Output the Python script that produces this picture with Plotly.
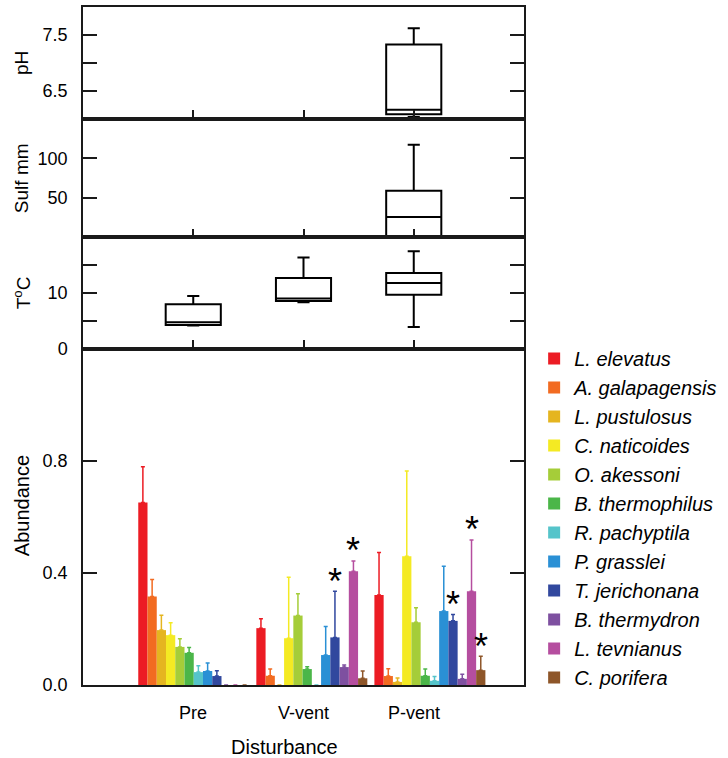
import plotly.graph_objects as go

FONT = "Liberation Sans, Arial, sans-serif"

groups = ["Pre", "V-vent", "P-vent"]

# ---- environmental box summaries ----
ph_groups = ["P-vent"]
ph_lower = [6.03]
ph_q1 = [6.08]
ph_median = [6.16]
ph_q3 = [7.33]
ph_upper = [7.62]

sulf_groups = ["P-vent"]
sulf_lower = [0.0]
sulf_q1 = [0.5]
sulf_median = [25.6]
sulf_q3 = [59.0]
sulf_upper = [117.0]

temp_groups = ["Pre", "V-vent", "P-vent"]
temp_lower = [4.2, 8.35, 3.95]
temp_q1 = [4.3, 8.6, 9.7]
temp_median = [4.8, 9.05, 11.8]
temp_q3 = [8.0, 12.7, 13.6]
temp_upper = [9.5, 16.4, 17.5]

# ---- abundance (Pre, V-vent, P-vent) ----
species = ["L. elevatus", "A. galapagensis", "L. pustulosus", "C. naticoides",
           "O. akessoni", "B. thermophilus", "R. pachyptila", "P. grasslei",
           "T. jerichonana", "B. thermydron", "L. tevnianus", "C. porifera"]
colors = ["#EC1C24", "#F26B21", "#E5B520", "#F4EA23", "#A5CD39", "#4BB649",
          "#55C4CA", "#2A90D5", "#31489E", "#7E50A0", "#B54E9F", "#8E5629"]
abund_L_elevatus = [0.652, 0.203, 0.321]
abund_A_galapagensis = [0.316, 0.033, 0.032]
abund_L_pustulosus = [0.196, 0.0, 0.011]
abund_C_naticoides = [0.178, 0.167, 0.460]
abund_O_akessoni = [0.136, 0.248, 0.224]
abund_B_thermophilus = [0.115, 0.057, 0.033]
abund_R_pachyptila = [0.046, 0.0, 0.015]
abund_P_grasslei = [0.050, 0.107, 0.264]
abund_T_jerichonana = [0.032, 0.170, 0.229]
abund_B_thermydron = [0.0, 0.064, 0.022]
abund_L_tevnianus = [0.0, 0.406, 0.335]
abund_C_porifera = [0.0, 0.024, 0.053]

err_L_elevatus = [0.127, 0.034, 0.152]
err_A_galapagensis = [0.061, 0.024, 0.026]
err_L_pustulosus = [0.053, 0.0, 0.014]
err_C_naticoides = [0.044, 0.218, 0.304]
err_O_akessoni = [0.029, 0.078, 0.052]
err_B_thermophilus = [0.019, 0.008, 0.024]
err_R_pachyptila = [0.023, 0.0, 0.015]
err_P_grasslei = [0.029, 0.102, 0.160]
err_T_jerichonana = [0.019, 0.165, 0.023]
err_B_thermydron = [0.0, 0.007, 0.016]
err_L_tevnianus = [0.0, 0.037, 0.183]
err_C_porifera = [0.0, 0.026, 0.050]

abund = [abund_L_elevatus, abund_A_galapagensis, abund_L_pustulosus, abund_C_naticoides,
         abund_O_akessoni, abund_B_thermophilus, abund_R_pachyptila, abund_P_grasslei,
         abund_T_jerichonana, abund_B_thermydron, abund_L_tevnianus, abund_C_porifera]
errs = [err_L_elevatus, err_A_galapagensis, err_L_pustulosus, err_C_naticoides,
        err_O_akessoni, err_B_thermophilus, err_R_pachyptila, err_P_grasslei,
        err_T_jerichonana, err_B_thermydron, err_L_tevnianus, err_C_porifera]

# significant differences marked with asterisks: (group, species)
signif = [("V-vent", "T. jerichonana"), ("V-vent", "L. tevnianus"),
          ("P-vent", "T. jerichonana"), ("P-vent", "L. tevnianus"),
          ("P-vent", "C. porifera")]

fig = go.Figure()

box_style = dict(line=dict(color="black", width=2), fillcolor="white",
                 whiskerwidth=0.22, width=0.5, showlegend=False, hoverinfo="skip")
fig.add_trace(go.Box(x=ph_groups, lowerfence=ph_lower, q1=ph_q1, median=ph_median,
                     q3=ph_q3, upperfence=ph_upper, xaxis="x", yaxis="y", **box_style))
fig.add_trace(go.Box(x=sulf_groups, lowerfence=sulf_lower, q1=sulf_q1, median=sulf_median,
                     q3=sulf_q3, upperfence=sulf_upper, xaxis="x2", yaxis="y2", **box_style))
fig.add_trace(go.Box(x=temp_groups, lowerfence=temp_lower, q1=temp_q1, median=temp_median,
                     q3=temp_q3, upperfence=temp_upper, xaxis="x3", yaxis="y3", **box_style))

for name, col, vals, e in zip(species, colors, abund, errs):
    fig.add_trace(go.Bar(
        x=groups, y=vals, name=name, marker=dict(color=col, line=dict(width=0)),
        error_y=dict(type="data", symmetric=False, array=e, arrayminus=[0] * len(e),
                     color=col, thickness=1.5, width=2),
        xaxis="x4", yaxis="y4"))

BARGAP = 0.06
slot = (1 - BARGAP) / len(species)
annotations = []
for g, sp in signif:
    gi = groups.index(g)
    k = species.index(sp)
    annotations.append(dict(
        x=gi + (k - (len(species) - 1) / 2) * slot, y=abund[k][gi] + errs[k][gi],
        xref="x4", yref="y4", text="*", showarrow=False, yanchor="middle",
        yshift=10, font=dict(size=36, color="black", family=FONT)))

# category labels and titles
for g in groups:
    annotations.append(dict(x=g, y=-0.041, xref="x3", yref="paper", text=g,
                            showarrow=False, yanchor="middle",
                            font=dict(size=18, color="black", family=FONT)))
annotations.append(dict(x=0.458, y=-0.091, xref="paper", yref="paper", text="Disturbance",
                        showarrow=False, yanchor="middle",
                        font=dict(size=20, color="black", family=FONT)))
ytitles = [("pH", 0.9176, 19), ("Sulf mm", 0.7478, 19), ("T<sup>o</sup>C", 0.5779, 19),
           ("Abundance", 0.2640, 20)]
for txt, yy, fs in ytitles:
    annotations.append(dict(x=-0.138, y=yy, xref="paper", yref="paper", text=txt,
                            textangle=-90, showarrow=False, xanchor="center", yanchor="middle",
                            font=dict(size=fs, color="black", family=FONT)))

xbox = dict(type="category", categoryorder="array", categoryarray=groups,
            range=[-1, 3], showline=True, mirror=True, linecolor="#1a1a1a", linewidth=1.5,
            ticks="inside", ticklen=9, tickwidth=1.5, tickcolor="#1a1a1a",
            showticklabels=False, showgrid=False, zeroline=False, fixedrange=True)
ybase = dict(showline=True, mirror="ticks", linecolor="#1a1a1a", linewidth=1.5,
             ticks="inside", ticklen=14, tickwidth=1.5, tickcolor="#1a1a1a",
             showgrid=False, zeroline=False, ticklabelstandoff=10,
             tickfont=dict(size=18, color="black", family=FONT))

fig.update_layout(
    width=728, height=758,
    margin=dict(l=83, r=195, t=5, b=73),
    paper_bgcolor="white", plot_bgcolor="white",
    font=dict(family=FONT, color="black", size=18),
    barmode="group", bargap=BARGAP, bargroupgap=0,
    showlegend=True,
    legend=dict(x=1.023, y=0.5103, xanchor="left", yanchor="top",
                font=dict(size=20, style="italic", color="black", family=FONT),
                bgcolor="rgba(0,0,0,0)", borderwidth=0, traceorder="normal"),
    xaxis=dict(domain=[0, 1], anchor="y", **xbox),
    xaxis2=dict(domain=[0, 1], anchor="y2", **xbox),
    xaxis3=dict(domain=[0, 1], anchor="y3", **xbox),
    xaxis4=dict(domain=[0, 1], anchor="y4", type="category", categoryorder="array",
                categoryarray=groups, range=[-0.938, 2.797], showline=True, mirror=True,
                linecolor="#1a1a1a", linewidth=1.5, ticks="", showticklabels=False,
                showgrid=False, zeroline=False),
    yaxis=dict(domain=[0.8353, 1], anchor="x", range=[6, 8], tickvals=[6.5, 7, 7.5],
               ticktext=["6.5", "", "7.5"], **ybase),
    yaxis2=dict(domain=[0.6603, 0.8353], anchor="x2", range=[0, 150], tickvals=[50, 100],
                ticktext=["50", "100"], **ybase),
    yaxis3=dict(domain=[0.4956, 0.6603], anchor="x3", range=[0, 20], tickvals=[0, 5, 10, 15],
                ticktext=["0", "", "10", ""], **ybase),
    yaxis4=dict(domain=[0, 0.4956], anchor="x4", range=[0, 1.2], tickvals=[0, 0.4, 0.8],
                ticktext=["0.0", "0.4", "0.8"], **ybase),
    annotations=annotations,
)

fig.write_html("out.html", config={"displayModeBar": False},
               post_script="document.body.style.margin='0px';")
